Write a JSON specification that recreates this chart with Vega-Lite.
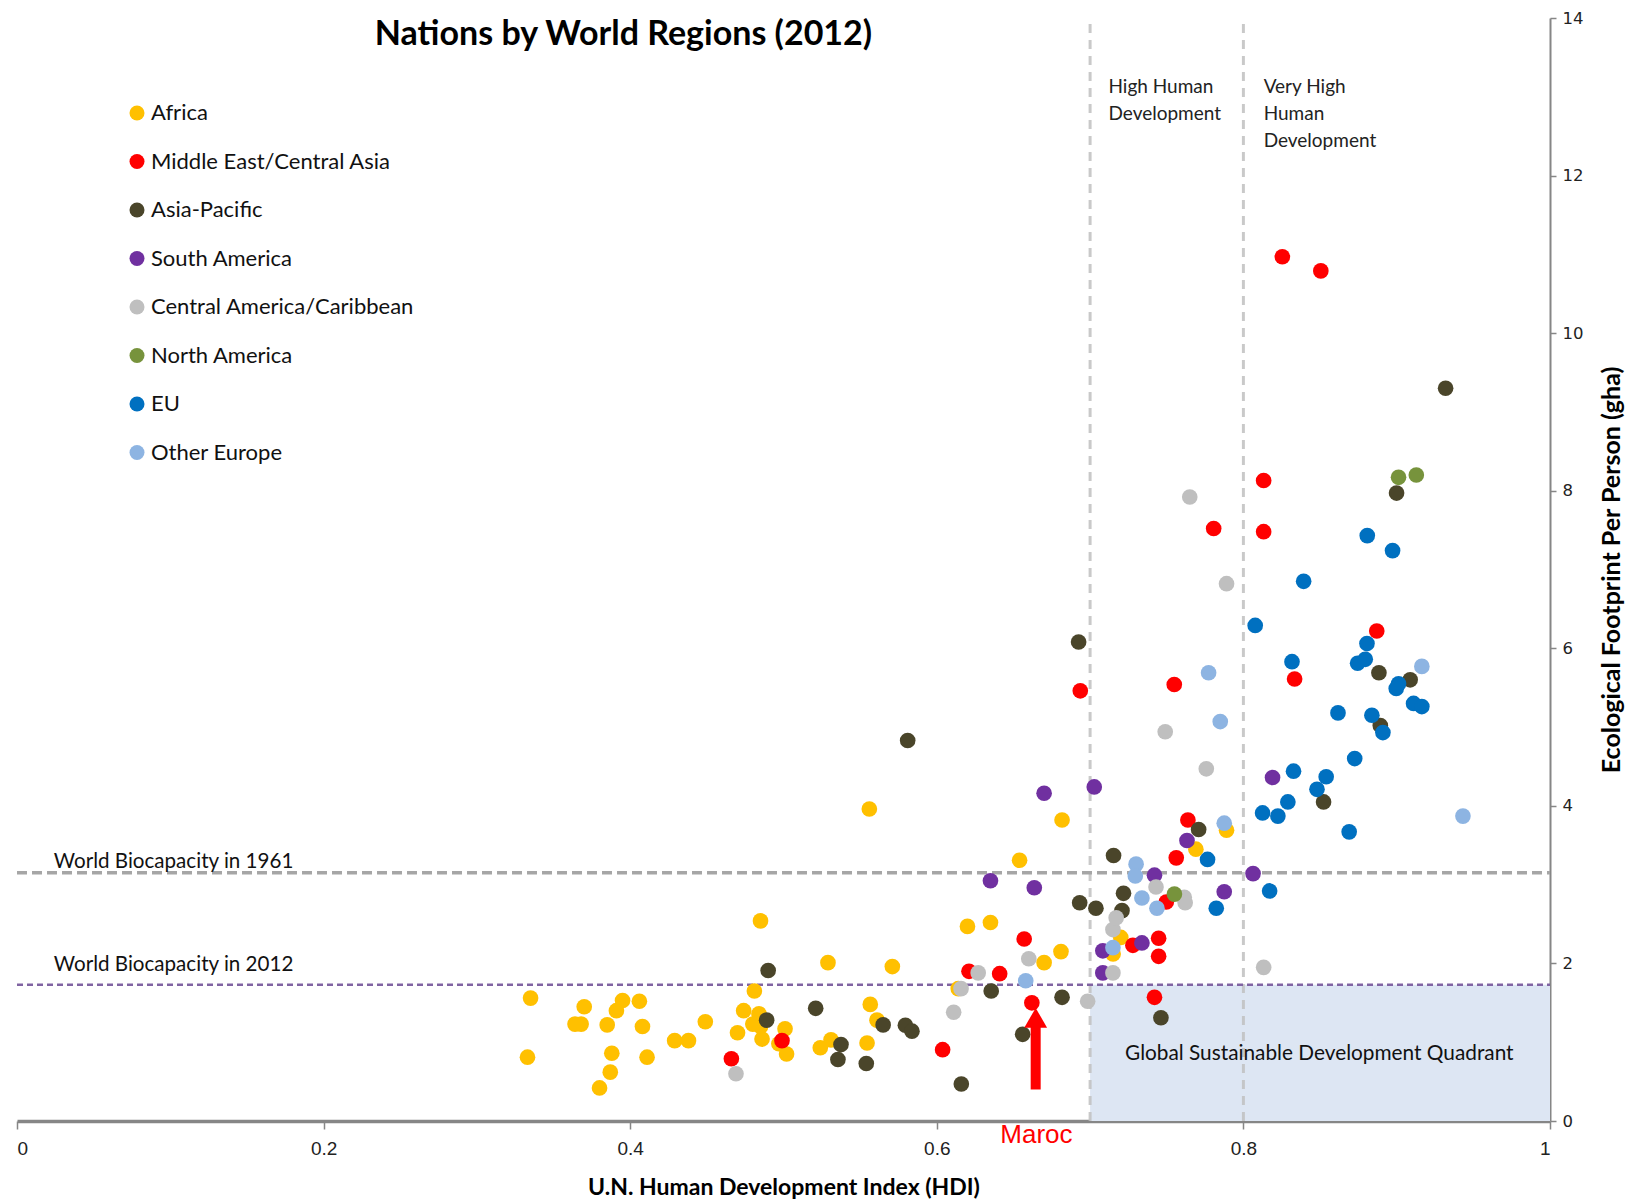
{
 "$schema": "https://vega.github.io/schema/vega-lite/v6.json",
 "width": 1533,
 "height": 1103,
 "autosize": {"type": "none"},
 "padding": {"left": 17, "top": 18, "right": 83, "bottom": 82},
 "background": "white",
 "config": {"view": {"stroke": null}, "font": "Lato"},
 "title": {"text": "Nations by World Regions (2012)", "font": "Lato", "fontSize": 34, "fontWeight": "bold", "color": "black", "anchor": "middle", "frame": "group", "offset": -69, "dx": -160, "baseline": "alphabetic"},
 "datasets": {
  "pts": [
   {"region":"Africa","hdi":0.335,"ef":1.56},{"region":"Africa","hdi":0.333,"ef":0.81},{"region":"Africa","hdi":0.364,"ef":1.23},{"region":"Africa","hdi":0.368,"ef":1.23},{"region":"Africa","hdi":0.370,"ef":1.45},{"region":"Africa","hdi":0.385,"ef":1.22},{"region":"Africa","hdi":0.391,"ef":1.40},{"region":"Africa","hdi":0.395,"ef":1.53},{"region":"Africa","hdi":0.406,"ef":1.52},{"region":"Africa","hdi":0.408,"ef":1.20},{"region":"Africa","hdi":0.388,"ef":0.86},{"region":"Africa","hdi":0.387,"ef":0.62},{"region":"Africa","hdi":0.380,"ef":0.42},{"region":"Africa","hdi":0.411,"ef":0.81},{"region":"Africa","hdi":0.429,"ef":1.02},{"region":"Africa","hdi":0.438,"ef":1.02},{"region":"Africa","hdi":0.449,"ef":1.26},{"region":"Africa","hdi":0.470,"ef":1.12},{"region":"Africa","hdi":0.474,"ef":1.40},{"region":"Africa","hdi":0.481,"ef":1.65},{"region":"Africa","hdi":0.484,"ef":1.36},{"region":"Africa","hdi":0.480,"ef":1.23},{"region":"Africa","hdi":0.486,"ef":1.04},{"region":"Africa","hdi":0.485,"ef":1.20},{"region":"Africa","hdi":0.501,"ef":1.17},{"region":"Africa","hdi":0.497,"ef":0.98},{"region":"Africa","hdi":0.502,"ef":0.85},{"region":"Africa","hdi":0.485,"ef":2.54},{"region":"Africa","hdi":0.524,"ef":0.93},{"region":"Africa","hdi":0.531,"ef":1.03},{"region":"Africa","hdi":0.529,"ef":2.01},{"region":"Africa","hdi":0.5545,"ef":0.99},{"region":"Africa","hdi":0.5566,"ef":1.48},{"region":"Africa","hdi":0.561,"ef":1.28},{"region":"Africa","hdi":0.571,"ef":1.96},{"region":"Africa","hdi":0.556,"ef":3.96},{"region":"Africa","hdi":0.614,"ef":1.68},{"region":"Africa","hdi":0.620,"ef":2.47},{"region":"Africa","hdi":0.635,"ef":2.52},{"region":"Africa","hdi":0.654,"ef":3.31},{"region":"Africa","hdi":0.670,"ef":2.01},{"region":"Africa","hdi":0.681,"ef":2.15},{"region":"Africa","hdi":0.6817,"ef":3.82},{"region":"Africa","hdi":0.720,"ef":2.33},{"region":"Africa","hdi":0.715,"ef":2.12},{"region":"Africa","hdi":0.769,"ef":3.45},{"region":"Africa","hdi":0.789,"ef":3.69},
   {"region":"Middle East/Central Asia","hdi":0.466,"ef":0.79},{"region":"Middle East/Central Asia","hdi":0.499,"ef":1.02},{"region":"Middle East/Central Asia","hdi":0.6038,"ef":0.905},{"region":"Middle East/Central Asia","hdi":0.621,"ef":1.90},{"region":"Middle East/Central Asia","hdi":0.641,"ef":1.87},{"region":"Middle East/Central Asia","hdi":0.657,"ef":2.31},{"region":"Middle East/Central Asia","hdi":0.662,"ef":1.50},{"region":"Middle East/Central Asia","hdi":0.6936,"ef":5.46},{"region":"Middle East/Central Asia","hdi":0.7279,"ef":2.23},{"region":"Middle East/Central Asia","hdi":0.7447,"ef":2.32},{"region":"Middle East/Central Asia","hdi":0.7447,"ef":2.09},{"region":"Middle East/Central Asia","hdi":0.742,"ef":1.57},{"region":"Middle East/Central Asia","hdi":0.7497,"ef":2.78},{"region":"Middle East/Central Asia","hdi":0.7562,"ef":3.34},{"region":"Middle East/Central Asia","hdi":0.7638,"ef":3.82},{"region":"Middle East/Central Asia","hdi":0.7549,"ef":5.54},{"region":"Middle East/Central Asia","hdi":0.7806,"ef":7.52},{"region":"Middle East/Central Asia","hdi":0.8132,"ef":8.13},{"region":"Middle East/Central Asia","hdi":0.8132,"ef":7.48},{"region":"Middle East/Central Asia","hdi":0.8254,"ef":10.97},{"region":"Middle East/Central Asia","hdi":0.8505,"ef":10.79},{"region":"Middle East/Central Asia","hdi":0.8334,"ef":5.61},{"region":"Middle East/Central Asia","hdi":0.887,"ef":6.22},
   {"region":"Asia-Pacific","hdi":0.490,"ef":1.91},{"region":"Asia-Pacific","hdi":0.489,"ef":1.28},{"region":"Asia-Pacific","hdi":0.521,"ef":1.43},{"region":"Asia-Pacific","hdi":0.5375,"ef":0.97},{"region":"Asia-Pacific","hdi":0.5355,"ef":0.78},{"region":"Asia-Pacific","hdi":0.554,"ef":0.73},{"region":"Asia-Pacific","hdi":0.565,"ef":1.22},{"region":"Asia-Pacific","hdi":0.5795,"ef":1.215},{"region":"Asia-Pacific","hdi":0.5838,"ef":1.14},{"region":"Asia-Pacific","hdi":0.581,"ef":4.83},{"region":"Asia-Pacific","hdi":0.616,"ef":0.47},{"region":"Asia-Pacific","hdi":0.6355,"ef":1.65},{"region":"Asia-Pacific","hdi":0.656,"ef":1.10},{"region":"Asia-Pacific","hdi":0.6817,"ef":1.57},{"region":"Asia-Pacific","hdi":0.6925,"ef":6.08},{"region":"Asia-Pacific","hdi":0.6932,"ef":2.77},{"region":"Asia-Pacific","hdi":0.7038,"ef":2.70},{"region":"Asia-Pacific","hdi":0.7153,"ef":3.37},{"region":"Asia-Pacific","hdi":0.7218,"ef":2.89},{"region":"Asia-Pacific","hdi":0.7208,"ef":2.67},{"region":"Asia-Pacific","hdi":0.7462,"ef":1.31},{"region":"Asia-Pacific","hdi":0.7708,"ef":3.70},{"region":"Asia-Pacific","hdi":0.8523,"ef":4.05},{"region":"Asia-Pacific","hdi":0.8884,"ef":5.69},{"region":"Asia-Pacific","hdi":0.9088,"ef":5.60},{"region":"Asia-Pacific","hdi":0.8893,"ef":5.02},{"region":"Asia-Pacific","hdi":0.8999,"ef":7.97},{"region":"Asia-Pacific","hdi":0.9319,"ef":9.30},
   {"region":"South America","hdi":0.635,"ef":3.05},{"region":"South America","hdi":0.6636,"ef":2.96},{"region":"South America","hdi":0.670,"ef":4.16},{"region":"South America","hdi":0.7027,"ef":4.24},{"region":"South America","hdi":0.7083,"ef":2.16},{"region":"South America","hdi":0.7083,"ef":1.88},{"region":"South America","hdi":0.7338,"ef":2.26},{"region":"South America","hdi":0.742,"ef":3.12},{"region":"South America","hdi":0.7632,"ef":3.56},{"region":"South America","hdi":0.7875,"ef":2.91},{"region":"South America","hdi":0.8063,"ef":3.14},{"region":"South America","hdi":0.819,"ef":4.36},
   {"region":"Central America/Caribbean","hdi":0.469,"ef":0.60},{"region":"Central America/Caribbean","hdi":0.611,"ef":1.38},{"region":"Central America/Caribbean","hdi":0.6158,"ef":1.68},{"region":"Central America/Caribbean","hdi":0.627,"ef":1.88},{"region":"Central America/Caribbean","hdi":0.660,"ef":2.06},{"region":"Central America/Caribbean","hdi":0.6984,"ef":1.52},{"region":"Central America/Caribbean","hdi":0.7149,"ef":1.88},{"region":"Central America/Caribbean","hdi":0.7149,"ef":2.43},{"region":"Central America/Caribbean","hdi":0.717,"ef":2.58},{"region":"Central America/Caribbean","hdi":0.743,"ef":2.97},{"region":"Central America/Caribbean","hdi":0.7614,"ef":2.84},{"region":"Central America/Caribbean","hdi":0.762,"ef":2.77},{"region":"Central America/Caribbean","hdi":0.749,"ef":4.94},{"region":"Central America/Caribbean","hdi":0.7758,"ef":4.47},{"region":"Central America/Caribbean","hdi":0.765,"ef":7.92},{"region":"Central America/Caribbean","hdi":0.789,"ef":6.82},{"region":"Central America/Caribbean","hdi":0.8132,"ef":1.95},
   {"region":"North America","hdi":0.755,"ef":2.88},{"region":"North America","hdi":0.9012,"ef":8.17},{"region":"North America","hdi":0.9128,"ef":8.20},
   {"region":"EU","hdi":0.7766,"ef":3.32},{"region":"EU","hdi":0.7823,"ef":2.70},{"region":"EU","hdi":0.8171,"ef":2.92},{"region":"EU","hdi":0.8125,"ef":3.91},{"region":"EU","hdi":0.8225,"ef":3.87},{"region":"EU","hdi":0.829,"ef":4.05},{"region":"EU","hdi":0.848,"ef":4.21},{"region":"EU","hdi":0.8327,"ef":4.44},{"region":"EU","hdi":0.854,"ef":4.37},{"region":"EU","hdi":0.869,"ef":3.67},{"region":"EU","hdi":0.8726,"ef":4.60},{"region":"EU","hdi":0.8617,"ef":5.18},{"region":"EU","hdi":0.8838,"ef":5.15},{"region":"EU","hdi":0.891,"ef":4.93},{"region":"EU","hdi":0.911,"ef":5.30},{"region":"EU","hdi":0.9164,"ef":5.26},{"region":"EU","hdi":0.9012,"ef":5.55},{"region":"EU","hdi":0.8997,"ef":5.49},{"region":"EU","hdi":0.8317,"ef":5.83},{"region":"EU","hdi":0.8745,"ef":5.81},{"region":"EU","hdi":0.8795,"ef":5.86},{"region":"EU","hdi":0.8806,"ef":6.06},{"region":"EU","hdi":0.8077,"ef":6.29},{"region":"EU","hdi":0.8393,"ef":6.85},{"region":"EU","hdi":0.8808,"ef":7.43},{"region":"EU","hdi":0.8973,"ef":7.24},
   {"region":"Other Europe","hdi":0.658,"ef":1.78},{"region":"Other Europe","hdi":0.7149,"ef":2.20},{"region":"Other Europe","hdi":0.730,"ef":3.26},{"region":"Other Europe","hdi":0.7295,"ef":3.11},{"region":"Other Europe","hdi":0.7338,"ef":2.83},{"region":"Other Europe","hdi":0.7436,"ef":2.70},{"region":"Other Europe","hdi":0.7875,"ef":3.78},{"region":"Other Europe","hdi":0.7773,"ef":5.69},{"region":"Other Europe","hdi":0.7849,"ef":5.07},{"region":"Other Europe","hdi":0.9164,"ef":5.77},{"region":"Other Europe","hdi":0.9432,"ef":3.87}
  ]
 },
 "encoding": {
  "x": {"field": "hdi", "type": "quantitative", "scale": {"domain": [0, 1], "nice": false, "zero": false},
        "axis": {"title": "U.N. Human Development Index  (HDI)", "values": [0, 0.2, 0.4, 0.6, 0.8, 1], "format": "~g", "grid": false,
                 "domainColor": "#868686", "domainWidth": 3.5, "tickColor": "#868686", "tickWidth": 1.5, "tickSize": 8,
                 "labelFont": "Liberation Sans Narrow, Liberation Sans", "labelFontSize": 19, "labelColor": "#222", "labelPadding": 10,
                 "titleFont": "Lato", "titleFontSize": 23, "titleFontWeight": "bold", "titleColor": "black", "titlePadding": 18}},
  "y": {"field": "ef", "type": "quantitative", "scale": {"domain": [0, 14], "nice": false, "zero": false},
        "axis": {"orient": "right", "title": "Ecological Footprint Per Person (gha)", "values": [0, 2, 4, 6, 8, 10, 12, 14], "grid": false,
                 "domainColor": "#868686", "domainWidth": 2, "tickColor": "#868686", "tickWidth": 1.5, "tickSize": 6,
                 "labelFont": "DejaVu Sans", "labelFontSize": 16.5, "labelColor": "#222", "labelPadding": 6,
                 "titleFont": "Lato", "titleFontSize": 25, "titleFontWeight": "bold", "titleColor": "black", "titleAngle": 270, "titlePadding": 42}}
 },
 "layer": [
  {"data": {"values": [{"hdi": 0.7, "hdi2": 1, "ef": 0, "ef2": 1.73}]},
   "mark": {"type": "rect", "fill": "#DDE6F3"},
   "encoding": {"x2": {"field": "hdi2"}, "y2": {"field": "ef2"}}},
  {"data": {"values": [{"hdi": 0.7, "ef": 0, "ef2": 14}, {"hdi": 0.8, "ef": 0, "ef2": 14}]},
   "mark": {"type": "rule", "color": "#BFBFBF", "opacity": 0.85, "strokeWidth": 3, "strokeDash": [9, 7]},
   "encoding": {"y2": {"field": "ef2"}}},
  {"data": {"values": [{"hdi": 0, "hdi2": 1, "ef": 3.15}]},
   "mark": {"type": "rule", "color": "#A6A6A6", "strokeWidth": 3.5, "strokeDash": [10, 5]},
   "encoding": {"x2": {"field": "hdi2"}}},
  {"data": {"values": [{"hdi": 0, "hdi2": 1, "ef": 1.73}]},
   "mark": {"type": "rule", "color": "#8064A2", "strokeWidth": 2.5, "strokeDash": [6, 4]},
   "encoding": {"x2": {"field": "hdi2"}}},
  {"data": {"values": [{"hdi": 0.024, "ef": 3.21, "label": "World Biocapacity in 1961"}, {"hdi": 0.024, "ef": 1.9, "label": "World Biocapacity in 2012"}]},
   "mark": {"type": "text", "align": "left", "baseline": "alphabetic", "font": "Lato", "fontSize": 20.6, "color": "#111"},
   "encoding": {"text": {"field": "label"}}},
  {"data": {"values": [{"hdi": 0.712, "ef": 13.05, "label": "High Human\nDevelopment"}, {"hdi": 0.8132, "ef": 13.05, "label": "Very High\nHuman\nDevelopment"}]},
   "mark": {"type": "text", "align": "left", "baseline": "alphabetic", "font": "Lato", "fontSize": 19, "lineHeight": 27, "lineBreak": "\n", "color": "#222"},
   "encoding": {"text": {"field": "label"}}},
  {"data": {"values": [{"hdi": 0.8495, "ef": 0.78, "label": "Global Sustainable Development Quadrant"}]},
   "mark": {"type": "text", "align": "center", "baseline": "alphabetic", "font": "Lato", "fontSize": 20.8, "color": "#111"},
   "encoding": {"text": {"field": "label"}}},
  {"data": {"name": "pts"},
   "mark": {"type": "circle", "size": 245, "opacity": 1},
   "encoding": {"color": {"field": "region", "type": "nominal",
     "scale": {"domain": ["Africa", "Middle East/Central Asia", "Asia-Pacific", "South America", "Central America/Caribbean", "North America", "EU", "Other Europe"],
               "range": ["#FFC000", "#FF0000", "#4A452A", "#7030A0", "#BFBFBF", "#77933C", "#0070C0", "#8DB4E2"]},
     "legend": {"orient": "none", "legendX": 109, "legendY": 84, "title": null, "symbolType": "circle", "symbolSize": 225, "symbolStrokeWidth": 0, "symbolOpacity": 1,
                "labelFont": "Lato", "labelFontSize": 22, "labelColor": "#111", "labelOffset": 3, "labelLimit": 0, "rowPadding": 26.5, "padding": 0}}}},
  {"data": {"values": [{"hdi": 0.6645, "ef": 0.4, "ef2": 1.2}]},
   "mark": {"type": "rule", "color": "#FF0000", "strokeWidth": 10},
   "encoding": {"y2": {"field": "ef2"}}},
  {"data": {"values": [{"hdi": 0.6645, "ef": 1.31}]},
   "mark": {"type": "point", "shape": "triangle-up", "size": 520, "filled": true, "color": "#FF0000", "opacity": 1}},
  {"data": {"values": [{"hdi": 0.665, "ef": -0.28, "label": "Maroc"}]},
   "mark": {"type": "text", "align": "center", "baseline": "alphabetic", "font": "Liberation Sans Narrow, Liberation Sans", "fontSize": 26, "color": "#FF0000"},
   "encoding": {"text": {"field": "label"}}}
 ]
}
